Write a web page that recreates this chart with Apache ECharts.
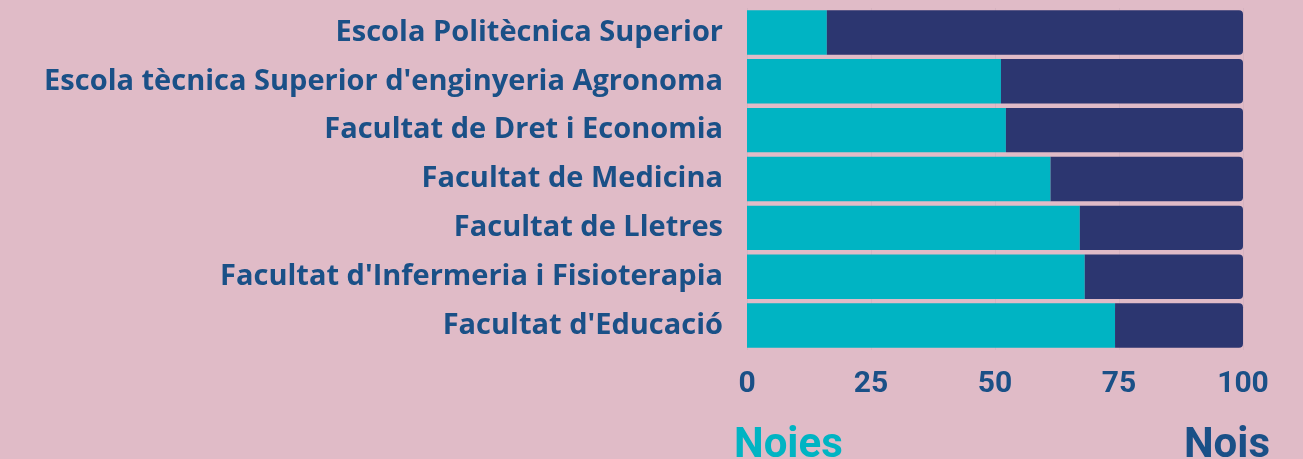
<!DOCTYPE html>
<html>
<head>
<meta charset="utf-8">
<script src="https://cdn.jsdelivr.net/npm/echarts@6/dist/echarts.min.js"></script>
<style>
  html, body { margin: 0; padding: 0; background: #e0bbc7; }
  #chart { width: 1303px; height: 459px; }
</style>
</head>
<body>
<div id="chart"></div>
<script>
// facultats, de dalt a baix
var categories = [
  "Escola Politècnica Superior",
  "Escola tècnica Superior d'enginyeria Agronoma",
  "Facultat de Dret i Economia",
  "Facultat de Medicina",
  "Facultat de Lletres",
  "Facultat d'Infermeria i Fisioterapia",
  "Facultat d'Educació"
];
// percentatge de noies
var noies = [16.1, 51.2, 52.2, 61.2, 67.1, 68.1, 74.2];
// percentatge de nois
var nois = [83.9, 48.8, 47.8, 38.8, 32.9, 31.9, 25.8];
var xTicks = [0, 25, 50, 75, 100];

var labelColor = "#1a5087";
var chart = echarts.init(document.getElementById("chart"));

chart.setOption({
  backgroundColor: "#e0bbc7",
  animation: false,
  title: [
    {
      text: "Noies",
      left: 729,
      top: 420,
      textStyle: { color: "#00b4c3", fontFamily: "Roboto", fontWeight: "bold", fontSize: 42 }
    },
    {
      text: "Nois",
      right: 28,
      top: 420,
      textStyle: { color: labelColor, fontFamily: "Roboto", fontWeight: "bold", fontSize: 42 }
    }
  ],
  grid: {
    left: 747,
    right: 60,
    top: 8,
    height: 342
  },
  xAxis: {
    type: "value",
    min: 0,
    max: 100,
    interval: 25,
    axisLine: { show: false },
    axisTick: { show: false },
    splitLine: { show: true, lineStyle: { color: "#d6b3c0", width: 1 } },
    axisLabel: {
      color: labelColor,
      fontFamily: "Roboto",
      fontWeight: "bold",
      fontSize: 30,
      margin: 19,
      formatter: function (v) { return xTicks.indexOf(v) >= 0 ? String(v) : ""; }
    }
  },
  yAxis: {
    type: "category",
    data: categories,
    inverse: true,
    axisLine: { show: false },
    axisTick: { show: false },
    axisLabel: {
      color: labelColor,
      fontFamily: "Open Sans",
      fontWeight: "bold",
      fontSize: 29,
      margin: 24
    }
  },
  series: [
    {
      name: "Noies",
      type: "bar",
      stack: "total",
      data: noies,
      barCategoryGap: "9%",
      itemStyle: { color: "#00b4c3" }
    },
    {
      name: "Nois",
      type: "bar",
      stack: "total",
      data: nois,
      itemStyle: { color: "#2c3670", borderRadius: [0, 4, 4, 0] }
    }
  ]
});
</script>
</body>
</html>
